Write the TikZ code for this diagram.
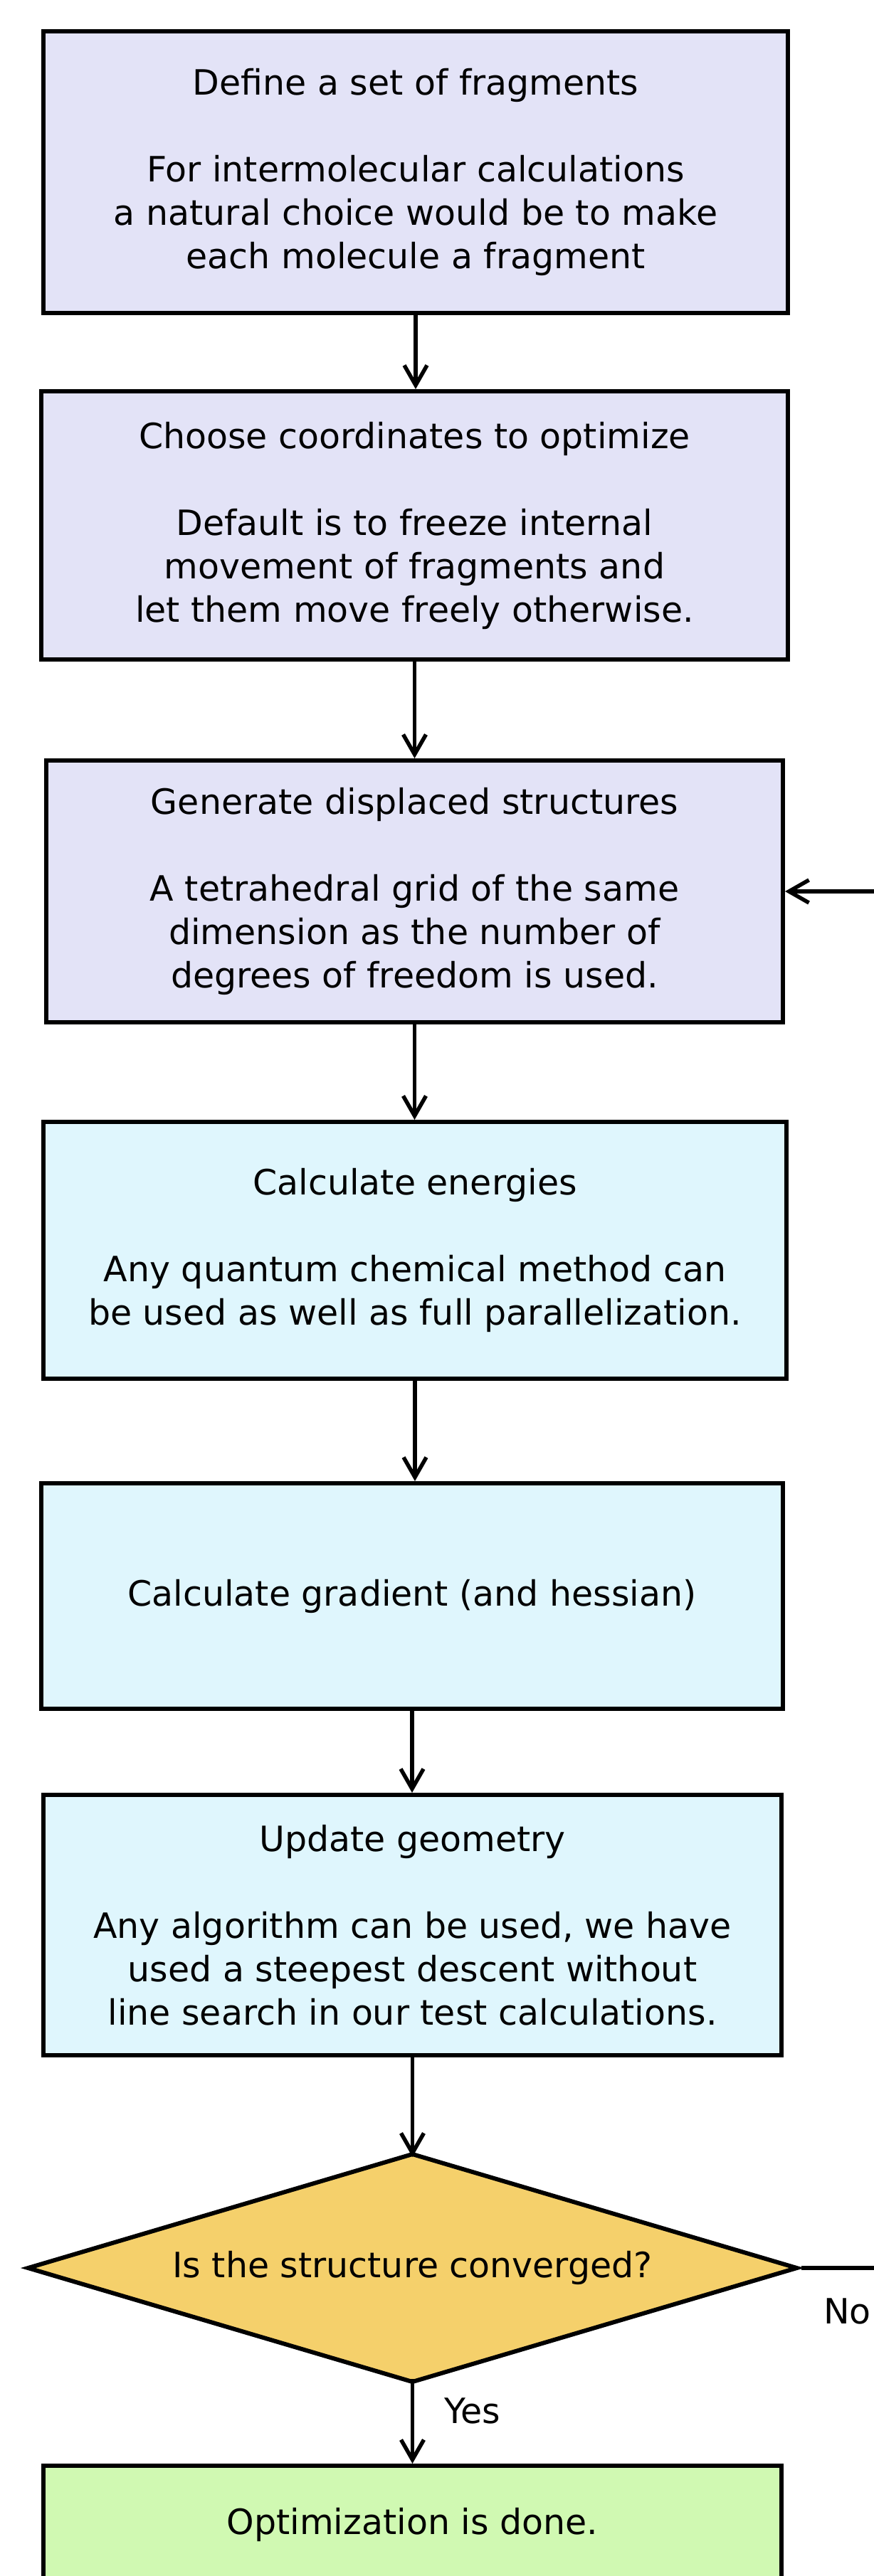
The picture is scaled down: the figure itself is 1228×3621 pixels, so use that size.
\documentclass[tikz,border=0pt]{standalone}
\usepackage{fontspec}
\setmainfont{DejaVu Sans}
\usetikzlibrary{arrows.meta}
\definecolor{lav}{HTML}{E3E3F7}
\definecolor{cya}{HTML}{DFF6FD}
\definecolor{dia}{HTML}{F5D06B}
\definecolor{grn}{HTML}{D0F9B2}
\tikzset{
  stepbox/.style={draw=black, line width=6pt, rectangle, inner sep=0pt, align=center,
    font=\fontsize{49}{61}\selectfont},
  decide/.style={rectangle, inner sep=0pt, outer sep=0pt, align=center,
    font=\fontsize{49}{61}\selectfont},
  diaborder/.style={draw=black, fill=dia, line width=6pt, line join=miter},
  conn/.style={draw=black, line width=5.5pt, -{Straight Barb[length=28pt,width=32pt]}},
  lbl/.style={font=\fontsize{49}{61}\selectfont, inner sep=0pt, anchor=west}
}
\begin{document}
\begin{tikzpicture}[x=1pt,y=-1pt]
\useasboundingbox (0,0) rectangle (1228,3621);
\clip (0,0) rectangle (1228,3621);
\fill[white] (0,0) rectangle (1228,3621);

\node[stepbox, fill=lav, minimum width=1046pt, minimum height=396pt] (b1) at (584,242)
  {Define a set of fragments\\[61pt]For intermolecular calculations\\a natural choice would be to make\\each molecule a fragment};
\node[stepbox, fill=lav, minimum width=1049pt, minimum height=377pt] (b2) at (582.5,738.5)
  {Choose coordinates to optimize\\[61pt]Default is to freeze internal\\movement of fragments and\\let them move freely otherwise.};
\node[stepbox, fill=lav, minimum width=1035pt, minimum height=368pt] (b3) at (582.5,1253)
  {Generate displaced structures\\[61pt]A tetrahedral grid of the same\\dimension as the number of\\degrees of freedom is used.};
\node[stepbox, fill=cya, minimum width=1044pt, minimum height=361pt] (b4) at (583,1757.5)
  {Calculate energies\\[61pt]Any quantum chemical method can\\be used as well as full parallelization.};
\node[stepbox, fill=cya, minimum width=1042pt, minimum height=317pt] (b5) at (579,2243.5)
  {Calculate gradient (and hessian)};
\node[stepbox, fill=cya, minimum width=1037pt, minimum height=366pt] (b6) at (579.5,2706)
  {Update geometry\\[61pt]Any algorithm can be used, we have\\used a steepest descent without\\line search in our test calculations.};
\node[decide, minimum width=1080pt, minimum height=320pt] (d) at (579.5,3188) {};
\draw[diaborder] (d.north) -- (d.east) -- (d.south) -- (d.west) -- cycle;
\node[decide] (dt) at (d.center) {Is the structure converged?};
\node[stepbox, fill=grn, minimum width=1037pt, minimum height=166pt] (b7) at (579.5,3549)
  {Optimization is done.};

\draw[conn] (b1.south) -- (b1.south |- b2.north);
\draw[conn] (b2.south) -- (b2.south |- b3.north);
\draw[conn] (b3.south) -- (b3.south |- b4.north);
\draw[conn] (b4.south) -- (b4.south |- b5.north);
\draw[conn] (b5.south) -- (b5.south |- b6.north);
\draw[conn] (b6.south) -- ([yshift=-4pt]d.north);
\draw[conn] ([yshift=4pt]d.south) -- (b7.north);
\coordinate (loop) at (1330,3188);
\draw[conn] ([xshift=6pt]d.east) -- (loop) |- (b3.east);

\node[lbl] (no) at (1157,3249) {No};
\node[lbl] (yes) at (624,3389) {Yes};
\end{tikzpicture}
\end{document}
